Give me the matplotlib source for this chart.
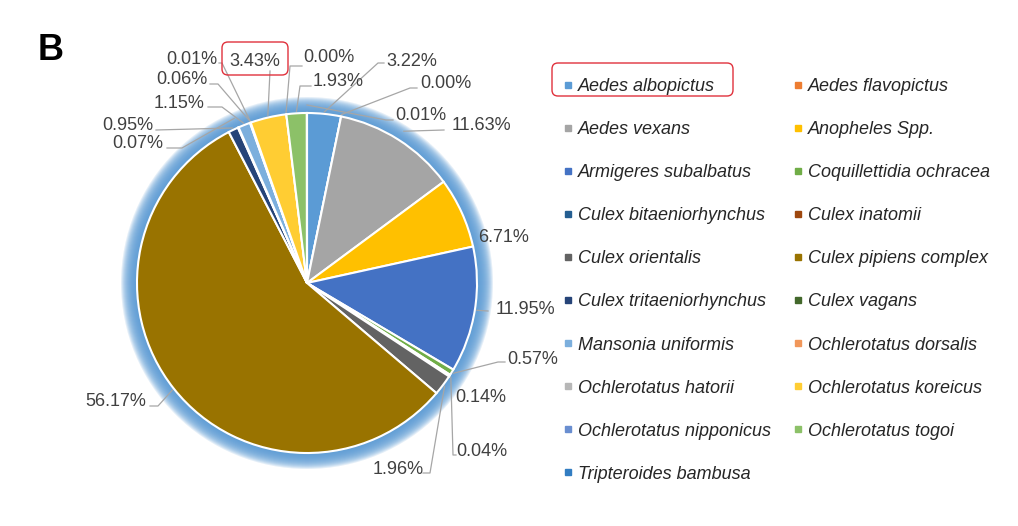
import numpy as np
import matplotlib
matplotlib.use("Agg")
import matplotlib.pyplot as plt
from matplotlib.patches import Circle, FancyBboxPatch
from matplotlib.lines import Line2D

# species and share of catch (%), in legend order
species = [
    "Aedes albopictus", "Aedes flavopictus", "Aedes vexans", "Anopheles Spp.",
    "Armigeres subalbatus", "Coquillettidia ochracea", "Culex bitaeniorhynchus",
    "Culex inatomii", "Culex orientalis", "Culex pipiens complex",
    "Culex tritaeniorhynchus", "Culex vagans", "Mansonia uniformis",
    "Ochlerotatus dorsalis", "Ochlerotatus hatorii", "Ochlerotatus koreicus",
    "Ochlerotatus nipponicus", "Ochlerotatus togoi", "Tripteroides bambusa",
]
share = [3.22, 0.00, 11.63, 6.71, 11.95, 0.57, 0.14, 0.04, 1.96, 56.17,
         0.95, 0.07, 1.15, 0.06, 0.01, 3.43, 0.00, 1.93, 0.01]
colors = ["#5B9BD5", "#ED7D31", "#A5A5A5", "#FFC000", "#4472C4", "#70AD47",
          "#255E91", "#9E480E", "#636363", "#997300", "#264478", "#43682B",
          "#7CAFDD", "#F1975A", "#B7B7B7", "#FFCD33", "#698ED0", "#8CC168",
          "#327DC2"]

W, H = 1018, 526
CX, CY, R = 307, 283, 170


def P(x, y):
    # image pixel coords -> axes data coords
    return (x, H - y)


# label layout: text centre, leader start, elbow, anchor radius
lab_xy = [(412, 62), (446, 84), (481, 126), (504, 238), (525, 309),
          (533, 359), (481, 397), (482, 451), (398, 469), (116, 401),
          (128, 126), (138, 144), (179, 103), (182, 80), (192, 60),
          (255, 62), (329, 58), (338, 82), (421, 116)]
lead_start = [(384, 63), (417, 88), (444, 130), None, (488, 311),
              (505, 362), None, (456, 455), (423, 473), (150, 406),
              (156, 130), (167, 148), (208, 107), (210, 84), (219, 63),
              (270, 71), (302, 66), (311, 86), (393, 120)]
lead_elbow = [(378, 63), (410, 88), None, None, None,
              (498, 362), None, (453, 455), (430, 473), (158, 406),
              None, (182, 148), (222, 107), (218, 84), (222, 63),
              None, (290, 66), (300, 86), (386, 120)]
anchor_r = [172, 172, 180, 0, 172, 172, 0, 172, 172, 172,
            172, 180, 172, 172, 172, 172, 172, 172, 178]

plt.rcParams["font.family"] = ["Liberation Sans", "DejaVu Sans"]

fig = plt.figure(figsize=(W / 100, H / 100), dpi=100)
ax = fig.add_axes([0, 0, 1, 1])

wedges, _ = ax.pie(share, colors=colors, startangle=90, counterclock=False,
                   center=P(CX, CY), radius=R, normalize=True,
                   wedgeprops=dict(edgecolor="white", linewidth=1.5))
ax.set_xlim(0, W)
ax.set_ylim(0, H)
ax.set_aspect("auto")
ax.axis("off")

# soft blue glow around the pie
for k in range(1, 17):
    ax.add_patch(Circle(P(CX, CY), R + k, color="#5B9BD5", alpha=0.16,
                        lw=0, zorder=0))

cx, cy = P(CX, CY)
for i, w in enumerate(wedges):
    tx, ty = P(*lab_xy[i])
    ax.text(tx, ty, "%.2f%%" % share[i], ha="center", va="center",
            fontsize=13, color="#404040")
    if lead_start[i] is None:
        continue
    mid = np.deg2rad((w.theta1 + w.theta2) / 2)
    ar = anchor_r[i]
    pts = [P(*lead_start[i])]
    if lead_elbow[i] is not None:
        pts.append(P(*lead_elbow[i]))
    pts.append((cx + ar * np.cos(mid), cy + ar * np.sin(mid)))
    xs, ys = zip(*pts)
    ax.plot(xs, ys, color="#A6A6A6", lw=0.9, zorder=3)

# red highlight boxes
ax.add_patch(FancyBboxPatch(P(222, 75), 66, 33,
                            boxstyle="round,pad=0,rounding_size=6",
                            fc="none", ec="#E0313C", lw=1.0, zorder=4))
ax.add_patch(FancyBboxPatch(P(552, 96), 181, 33,
                            boxstyle="round,pad=0,rounding_size=6",
                            fc="none", ec="#E0313C", lw=1.0, zorder=4))

# legend, row-major across two columns
handles = [Line2D([], [], marker="s", linestyle="", markersize=5, color=c)
           for c in colors]
order = list(range(0, 19, 2)) + list(range(1, 19, 2))
ax.legend([handles[i] for i in order], [species[i] for i in order],
          ncol=2, loc="upper left", bbox_to_anchor=(561 / W, 1 - 78 / H),
          bbox_transform=fig.transFigure, frameon=False, borderpad=0,
          borderaxespad=0, handlelength=0.8, handletextpad=0.15,
          columnspacing=1.08, labelspacing=1.445,
          prop=dict(family="Liberation Sans", style="italic", size=13),
          labelcolor="#262626")

fig.text(38 / W, 1 - 50 / H, "B", fontsize=26, fontweight="bold",
         va="center", ha="left")

fig.savefig("out.png", dpi=100)
